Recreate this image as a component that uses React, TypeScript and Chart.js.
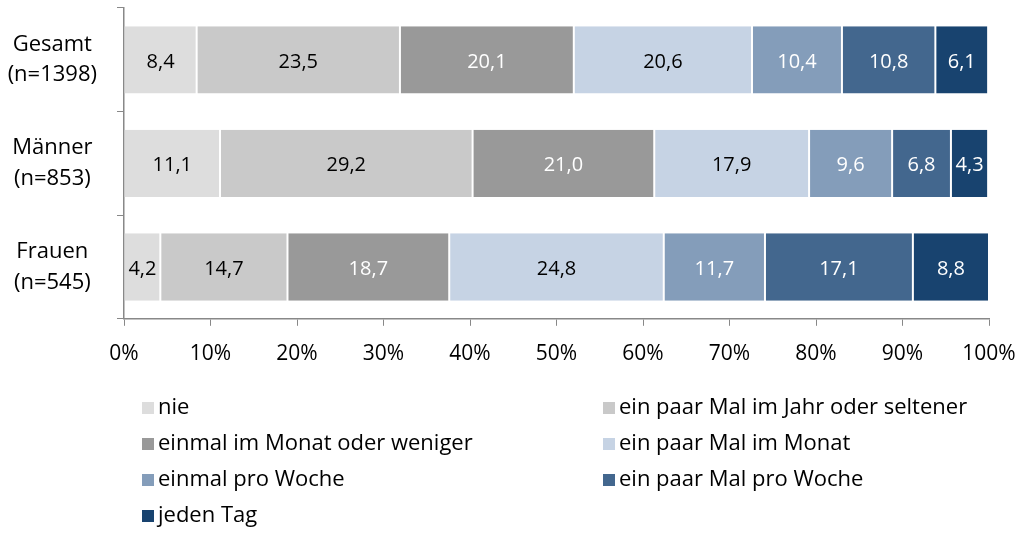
import React, { useEffect, useRef } from "react";
import { Chart, registerables } from "chart.js";

Chart.register(...registerables);

const categories: string[][] = [["Gesamt", "(n=1398)"], ["Männer", "(n=853)"], ["Frauen", "(n=545)"]];
const seriesNames = [
  "nie",
  "ein paar Mal im Jahr oder seltener",
  "einmal im Monat oder weniger",
  "ein paar Mal im Monat",
  "einmal pro Woche",
  "ein paar Mal pro Woche",
  "jeden Tag",
];
const nie = [8.4, 11.1, 4.2];
const jahr = [23.5, 29.2, 14.7];
const monatWeniger = [20.1, 21.0, 18.7];
const paarMonat = [20.6, 17.9, 24.8];
const einmalWoche = [10.4, 9.6, 11.7];
const paarWoche = [10.8, 6.8, 17.1];
const jedenTag = [6.1, 4.3, 8.8];
const seriesValues = [nie, jahr, monatWeniger, paarMonat, einmalWoche, paarWoche, jedenTag];
const colors = ["#DDDDDD", "#C9C9C9", "#999999", "#C6D3E4", "#849DBA", "#43678E", "#18436F"];
const labelColors = ["#000", "#000", "#fff", "#000", "#fff", "#fff", "#fff"];
const xTicks = [0, 10, 20, 30, 40, 50, 60, 70, 80, 90, 100];

const FONT = "'Open Sans', sans-serif";

const valueLabels = {
  id: "valueLabels",
  afterDatasetsDraw(chart: any) {
    const ctx = chart.ctx;
    ctx.save();
    ctx.font = `20px ${FONT}`;
    ctx.textAlign = "center";
    ctx.textBaseline = "middle";
    chart.data.datasets.forEach((ds: any, i: number) => {
      const meta = chart.getDatasetMeta(i);
      meta.data.forEach((bar: any, j: number) => {
        const v = ds.data[j];
        const cx = (bar.x + bar.base) / 2;
        ctx.fillStyle = labelColors[i];
        ctx.fillText(v.toFixed(1).replace(".", ","), cx, bar.y + 2);
      });
    });
    ctx.restore();
  },
};

const bottomLegend = {
  id: "bottomLegend",
  afterDraw(chart: any) {
    const ctx = chart.ctx;
    const left = chart.chartArea.left;
    ctx.save();
    ctx.font = `22px ${FONT}`;
    ctx.textBaseline = "middle";
    ctx.textAlign = "left";
    seriesNames.forEach((name, i) => {
      const col = i % 2;
      const row = Math.floor(i / 2);
      const x = left + 18 + col * 461;
      const y = 408 + row * 36;
      ctx.fillStyle = colors[i];
      ctx.fillRect(x, y - 6, 12, 12);
      ctx.fillStyle = "#000";
      ctx.fillText(name, x + 16, y);
    });
    ctx.restore();
  },
};

export default function App() {
  const ref = useRef<HTMLCanvasElement | null>(null);
  useEffect(() => {
    document.body.style.margin = "0";
    const chart = new Chart(ref.current!, {
      type: "bar",
      data: {
        labels: categories,
        datasets: seriesValues.map((vals, i) => ({
          label: seriesNames[i],
          data: vals,
          backgroundColor: colors[i],
          borderColor: "#ffffff",
          borderWidth: { left: i === 0 ? 0 : 1, right: 1, top: 0, bottom: 0 },
          borderSkipped: false,
          barPercentage: 0.65,
          categoryPercentage: 1,
        })),
      },
      options: {
        indexAxis: "y",
        animation: false,
        responsive: false,
        maintainAspectRatio: false,
        layout: { padding: { top: 8, right: 36, bottom: 158, left: 0 } },
        plugins: { legend: { display: false }, tooltip: { enabled: false } },
        scales: {
          x: {
            stacked: true,
            min: 0,
            max: 100,
            afterBuildTicks: (s: any) => { s.ticks = xTicks.map((v) => ({ value: v })); },
            afterFit: (s: any) => { s.paddingLeft = 0; s.paddingRight = 0; },
            ticks: {
              callback: (v: any) => v + "%",
              color: "#000",
              font: { family: FONT, size: 21 },
              padding: 16,
            },
            grid: { drawOnChartArea: false, drawTicks: true, tickLength: 7, color: "#888" },
            border: { color: "#888", width: 1.5 },
          },
          y: {
            stacked: true,
            afterFit: (s: any) => { s.width = 124; s.paddingTop = 0; s.paddingBottom = 0; },
            ticks: {
              color: "#000",
              font: { family: FONT, size: 22, lineHeight: 1.4 },
              crossAlign: "center",
              padding: 20,
            },
            grid: { drawOnChartArea: false, drawTicks: true, tickLength: 7, color: "#888", offset: true },
            border: { color: "#888", width: 1.5 },
          },
        },
      },
      plugins: [valueLabels, bottomLegend],
    });
    return () => chart.destroy();
  }, []);
  return <canvas ref={ref} width={1025} height={541} style={{ display: "block" }} />;
}
